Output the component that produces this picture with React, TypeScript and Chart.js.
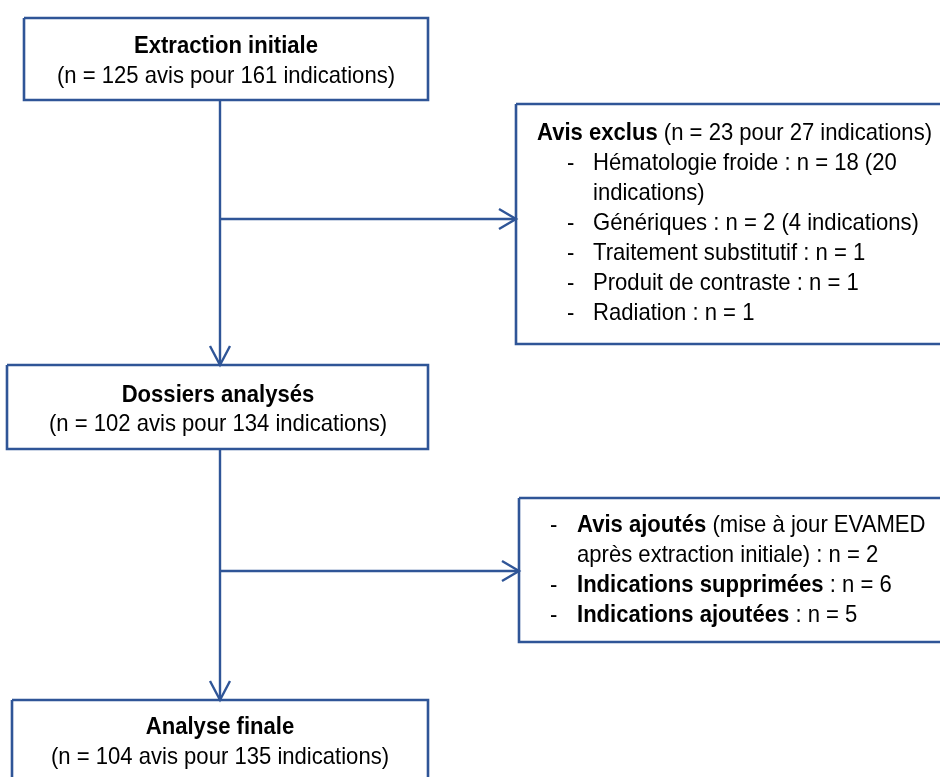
import { useEffect, useRef } from "react";
import { Chart, registerables } from "chart.js";

Chart.register(...registerables);

// ---------- content ----------
const titles = ["Extraction initiale", "Dossiers analysés", "Analyse finale"];
const counts = [
  "(n = 125 avis pour 161 indications)",
  "(n = 102 avis pour 134 indications)",
  "(n = 104 avis pour 135 indications)",
];
const exclusionHeader: [string, boolean][] = [
  ["Avis exclus", true],
  [" (n = 23 pour 27 indications)", false],
];
const exclusionItems = [
  "Hématologie froide : n = 18 (20",
  "indications)",
  "Génériques : n = 2 (4 indications)",
  "Traitement substitutif : n = 1",
  "Produit de contraste : n = 1",
  "Radiation : n = 1",
];
const exclusionDashes = [true, false, true, true, true, true];
const additionItems: [string, boolean][][] = [
  [["Avis ajoutés", true], [" (mise à jour EVAMED", false]],
  [["après extraction initiale) : n = 2", false]],
  [["Indications supprimées", true], [" : n = 6", false]],
  [["Indications ajoutées", true], [" : n = 5", false]],
];
const additionDashes = [true, false, true, true];

// ---------- layout (value space == pixel space of the page) ----------
const W = 940;
const H = 777;
const COLOR = "#2F5597";
const FONT = "'Liberation Sans Narrow', 'Arial Narrow', 'Liberation Sans', Arial, sans-serif";
const FS = 24;
const SX = 0.92; // horizontal condensing to mimic a narrow face

const mainBoxes = [
  { x0: 24, y0: 18, x1: 428, y1: 100, cx: 226, t: 53, c: 83 },
  { x0: 7, y0: 365, x1: 428, y1: 449, cx: 218, t: 402, c: 431 },
  { x0: 12, y0: 700, x1: 428, y1: 790, cx: 220, t: 734, c: 764 },
];
const sideBoxes = [
  { x0: 516, y0: 104, x1: 950, y1: 344 },
  { x0: 519, y0: 498, x1: 950, y1: 642 },
];
const SPINE_X = 220;
const branchY = [219, 571];
const exclLayout = { headX: 537, dashX: 567, textX: 593, y0: 140, step: 30 };
const addLayout = { dashX: 550, textX: 577, y0: 532, step: 30 };

function rect(b: { x0: number; y0: number; x1: number; y1: number }) {
  return [
    { x: b.x0, y: b.y0 },
    { x: b.x1, y: b.y0 },
    { x: b.x1, y: b.y1 },
    { x: b.x0, y: b.y1 },
    { x: b.x0, y: b.y0 },
  ];
}

function lineDs(data: { x: number; y: number }[], width: number) {
  return {
    data,
    showLine: true,
    borderColor: COLOR,
    backgroundColor: COLOR,
    borderWidth: width,
    pointRadius: 0,
    pointHoverRadius: 0,
    fill: false,
    tension: 0,
    borderJoinStyle: "miter" as const,
    borderCapStyle: "butt" as const,
    clip: false as const,
  };
}

const textPlugin = {
  id: "flowText",
  afterDatasetsDraw(chart: any) {
    const ctx = chart.ctx as CanvasRenderingContext2D;
    const xs = chart.scales.x;
    const ys = chart.scales.y;
    const px = (v: number) => xs.getPixelForValue(v);
    const py = (v: number) => ys.getPixelForValue(v);
    ctx.save();
    ctx.fillStyle = "#000";
    ctx.textBaseline = "alphabetic";
    const bold = `bold ${FS}px ${FONT}`;
    const reg = `${FS}px ${FONT}`;

    const put = (s: string, x: number, y: number, font: string, align: CanvasTextAlign) => {
      ctx.save();
      ctx.font = font;
      ctx.textAlign = align;
      ctx.translate(x, y);
      ctx.scale(SX, 1);
      ctx.fillText(s, 0, 0);
      const w = ctx.measureText(s).width * SX;
      ctx.restore();
      return w;
    };

    // main boxes
    mainBoxes.forEach((b, i) => {
      put(titles[i], px(b.cx), py(b.t), bold, "center");
      put(counts[i], px(b.cx), py(b.c), reg, "center");
    });

    const runs = (parts: [string, boolean][], x: number, y: number) => {
      let cx = px(x);
      parts.forEach(([s, b]) => {
        cx += put(s, cx, py(y), b ? bold : reg, "left");
      });
    };

    // exclusion box
    runs(exclusionHeader, exclLayout.headX, exclLayout.y0);
    exclusionItems.forEach((s, i) => {
      const y = exclLayout.y0 + exclLayout.step * (i + 1);
      if (exclusionDashes[i]) put("-", px(exclLayout.dashX), py(y), reg, "left");
      put(s, px(exclLayout.textX), py(y), reg, "left");
    });

    // additions box
    additionItems.forEach((parts, i) => {
      const y = addLayout.y0 + addLayout.step * i;
      if (additionDashes[i]) put("-", px(addLayout.dashX), py(y), reg, "left");
      runs(parts, addLayout.textX, y);
    });
    ctx.restore();
  },
};

export default function App() {
  const ref = useRef<HTMLCanvasElement | null>(null);
  useEffect(() => {
    if (!ref.current) return;
    const datasets: any[] = [];
    mainBoxes.forEach((b) => datasets.push(lineDs(rect(b), 2.6)));
    sideBoxes.forEach((b) => datasets.push(lineDs(rect(b), 2.6)));
    // spine
    datasets.push(lineDs([{ x: SPINE_X, y: mainBoxes[0].y1 }, { x: SPINE_X, y: mainBoxes[1].y0 }], 2.4));
    datasets.push(lineDs([{ x: SPINE_X, y: mainBoxes[1].y1 }, { x: SPINE_X, y: mainBoxes[2].y0 }], 2.4));
    // vertical arrow heads
    [mainBoxes[1].y0, mainBoxes[2].y0].forEach((tip) =>
      datasets.push(
        lineDs(
          [
            { x: SPINE_X - 10, y: tip - 19 },
            { x: SPINE_X, y: tip },
            { x: SPINE_X + 10, y: tip - 19 },
          ],
          2.4
        )
      )
    );
    // branches
    branchY.forEach((y, i) => {
      const tipX = sideBoxes[i].x0;
      datasets.push(lineDs([{ x: SPINE_X, y }, { x: tipX, y }], 2.4));
      datasets.push(
        lineDs(
          [
            { x: tipX - 17, y: y - 10 },
            { x: tipX, y },
            { x: tipX - 17, y: y + 10 },
          ],
          2.4
        )
      );
    });

    const chart = new Chart(ref.current, {
      type: "scatter",
      data: { datasets },
      options: {
        animation: false,
        responsive: false,
        events: [],
        layout: { padding: 0 },
        scales: {
          x: { type: "linear", min: 0, max: W, display: false },
          y: { type: "linear", min: 0, max: H, reverse: true, display: false },
        },
        plugins: { legend: { display: false }, tooltip: { enabled: false } },
      },
      plugins: [textPlugin],
    });
    return () => chart.destroy();
  }, []);

  return (
    <div style={{ position: "absolute", left: 0, top: 0, width: W, height: H, background: "#fff" }}>
      <canvas ref={ref} width={W} height={H} style={{ display: "block" }} />
    </div>
  );
}
